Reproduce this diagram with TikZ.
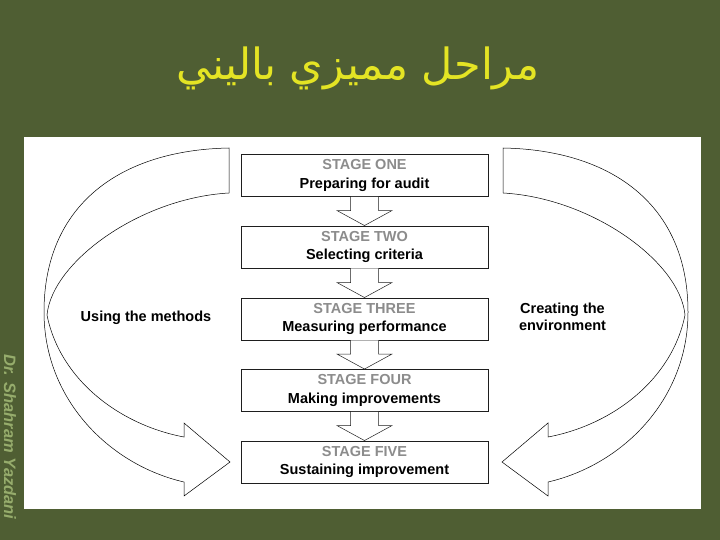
\documentclass[tikz,border=0pt]{standalone}
\usepackage{fontspec}
\setmainfont{Liberation Sans}
\newfontfamily\arabicfont[Script=Arabic]{DejaVu Sans}
\TeXXeTstate=1
\usetikzlibrary{calc}
\definecolor{bg}{RGB}{79,94,51}
\definecolor{titlecol}{RGB}{228,228,36}
\definecolor{stagegray}{RGB}{140,140,140}
\definecolor{authorcol}{RGB}{150,172,108}
\definecolor{linecol}{RGB}{30,30,30}
\tikzset{
  stagebox/.style={draw=linecol, line width=0.9pt, fill=white, minimum width=247pt, minimum height=42pt,
    inner sep=0pt, align=center, font=\bfseries\fontsize{14.5}{18.5}\selectfont},
  hollowarrow/.style={draw=linecol, line width=0.5pt, fill=white},
  bigarrow/.style={draw=black, line width=0.5pt, fill=white, line join=miter},
  sidelabel/.style={align=center, font=\bfseries\fontsize{14.5}{17}\selectfont, text=black}
}
\newcommand{\stg}[2]{{\color{stagegray}#1}\\#2}
\begin{document}
\begin{tikzpicture}[x=1pt,y=-1pt]
\fill[bg] (0,0) rectangle (720,540);
\useasboundingbox (0,0) rectangle (720,540);
% white panel
\fill[white] (24,137) rectangle (701,509);
% title
\node[text=titlecol, font=\arabicfont\fontsize{43}{48}\selectfont] (title) at (358,68) {\beginR مراحل مميزي باليني\endR};
% author
\node[rotate=-90, text=authorcol, font=\bfseries\itshape\fontsize{16.5}{18}\selectfont] (author) at (10,437) {Dr. Shahram Yazdani};
% big left arrow
\draw[bigarrow] (229,148) .. controls (120,150) and (44,205) .. (44,312)
  .. controls (44,400) and (110,465) .. (184,482)
  -- (184,496) -- (230,462) -- (184,423) -- (184,437)
  .. controls (120,425) and (60,380) .. (47,315)
  .. controls (52,262) and (140,198) .. (229,193) -- cycle;
% big right arrow (mirror about x=366)
\draw[bigarrow] (503,148) .. controls (612,150) and (688,205) .. (688,312)
  .. controls (688,400) and (622,465) .. (548,482)
  -- (548,496) -- (502,462) -- (548,423) -- (548,437)
  .. controls (612,425) and (672,380) .. (685,315)
  .. controls (680,262) and (592,198) .. (503,193) -- cycle;
% stage boxes
\node[stagebox] (s1) at (364.5,175.5) {\stg{STAGE ONE}{Preparing for audit}};
\node[stagebox] (s2) at (364.5,247) {\stg{STAGE TWO}{Selecting criteria}};
\node[stagebox] (s3) at (364.5,319) {\stg{STAGE THREE}{Measuring performance}};
\node[stagebox] (s4) at (364.5,390.5) {\stg{STAGE FOUR}{Making improvements}};
\node[stagebox] (s5) at (364.5,462) {\stg{STAGE FIVE}{Sustaining improvement}};
% hollow arrows between stages
\foreach \a/\b in {s1/s2,s2/s3,s3/s4,s4/s5}{
  \draw[hollowarrow] ($(\a.south)+(-14,0)$) -- ($(\b.north)+(-14,-15)$) -- ($(\b.north)+(-27.5,-15)$)
    -- (\b.north) -- ($(\b.north)+(27.5,-15)$) -- ($(\b.north)+(14,-15)$) -- ($(\a.south)+(14,0)$);
}
% side labels
\node[sidelabel] (using) at (146,318) {Using the methods};
\node[sidelabel] (creating) at (562.5,317) {Creating the\\environment};
\end{tikzpicture}
\end{document}
